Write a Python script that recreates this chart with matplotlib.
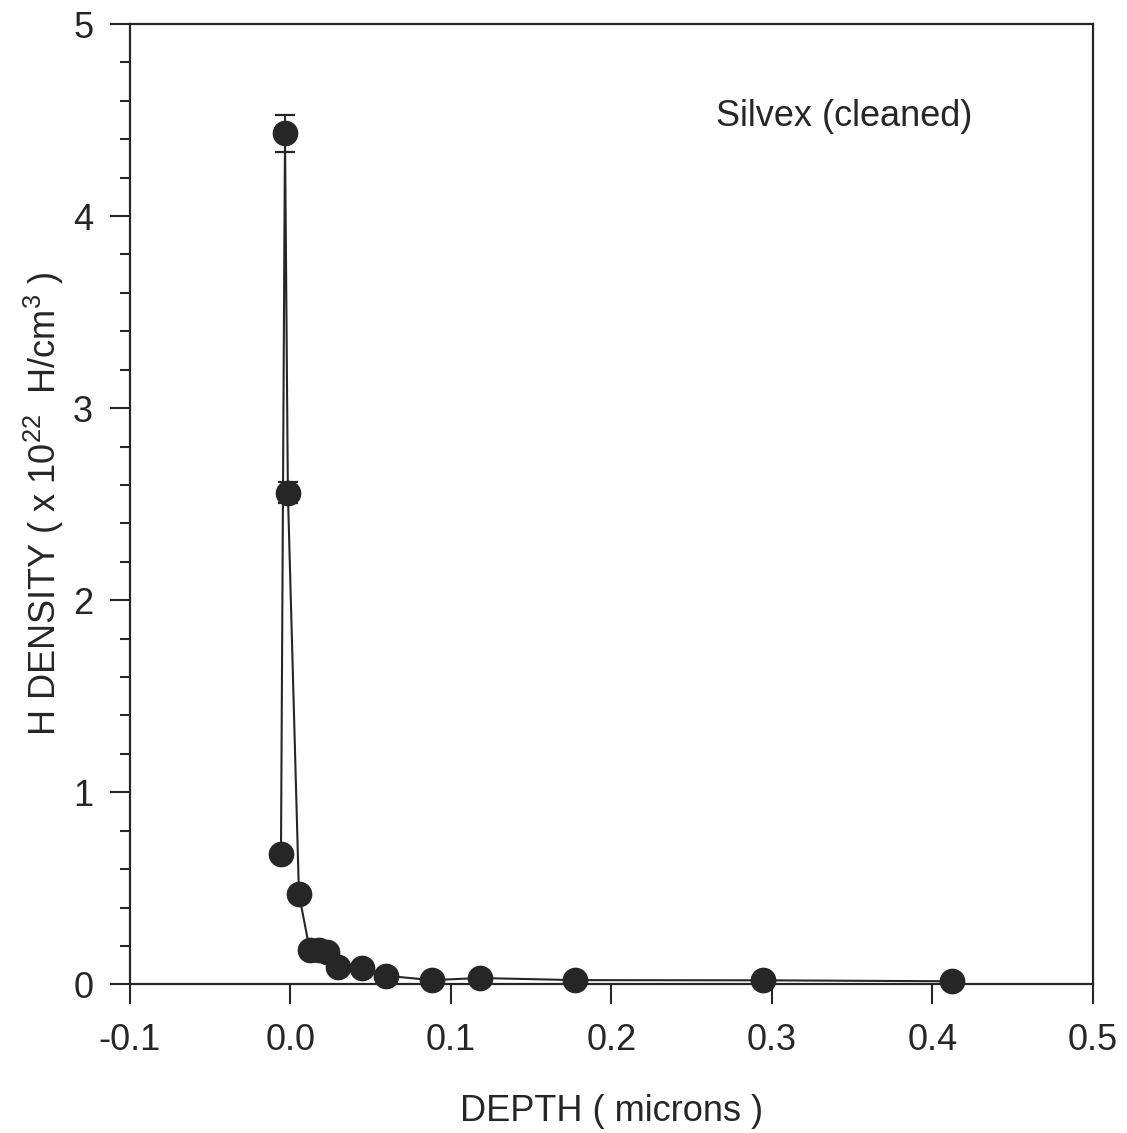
import matplotlib.pyplot as plt
from matplotlib.ticker import MultipleLocator

plt.rcParams['font.family'] = ['Liberation Sans', 'DejaVu Sans']
plt.rcParams['mathtext.default'] = 'regular'

# depth (microns) and H density (x 1e22 H/cm^3)
depth = [-0.0059, -0.0034, -0.0016, 0.0053, 0.012, 0.018, 0.023, 0.0294,
         0.0444, 0.0593, 0.0882, 0.118, 0.1773, 0.2946, 0.4123]
density = [0.68, 4.43, 2.56, 0.47, 0.18, 0.18, 0.17, 0.092,
           0.087, 0.045, 0.022, 0.033, 0.022, 0.021, 0.016]
err = [0, 0.094, 0.055, 0, 0, 0, 0, 0, 0, 0, 0, 0, 0, 0, 0]

xticks = [-0.1, 0.0, 0.1, 0.2, 0.3, 0.4, 0.5]
xticklabels = ['-0.1', '0.0', '0.1', '0.2', '0.3', '0.4', '0.5']

ink = '#262626'

fig = plt.figure(figsize=(11.27, 11.33), dpi=100)
ax = fig.add_axes([0.1153, 0.1312, 0.8545, 0.8476])

ax.errorbar(depth, density, yerr=err, fmt='o-', color=ink, ecolor=ink,
            markersize=17.5, linewidth=1.5, elinewidth=1.4, capsize=7,
            capthick=1.6, clip_on=False, zorder=3)

ax.set_xlim(-0.1, 0.5)
ax.set_ylim(0, 5)
ax.set_xticks(xticks)
ax.set_xticklabels(xticklabels)
ax.set_yticks([0, 1, 2, 3, 4, 5])
ax.yaxis.set_minor_locator(MultipleLocator(0.2))

for s in ax.spines.values():
    s.set_linewidth(1.6)
    s.set_color(ink)

ax.tick_params(axis='both', which='major', direction='out', length=14.5,
               width=1.5, color=ink, labelsize=26, labelcolor=ink)
ax.tick_params(axis='x', pad=13)
ax.tick_params(axis='y', pad=12)
ax.tick_params(axis='y', which='minor', direction='out', length=7.2,
               width=1.5, color=ink)

ax.set_xlabel('DEPTH ( microns )', fontsize=26, color=ink, labelpad=26)
ax.set_ylabel(r'H DENSITY ( x 10$^{22}$  H/cm$^{3}$ )', fontsize=26,
              color=ink, labelpad=5)

ax.text(0.265, 4.52, 'Silvex (cleaned)', fontsize=26, color=ink,
        ha='left', va='center')

fig.savefig('out.png', dpi=100)
